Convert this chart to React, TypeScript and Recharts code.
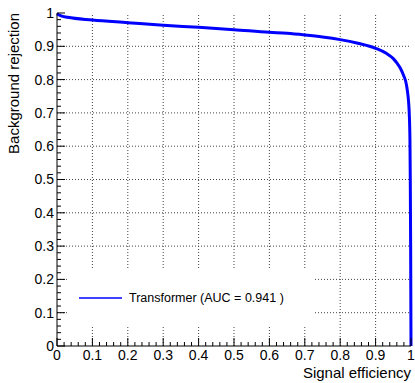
import { CartesianGrid, Legend, Line, LineChart, ReferenceLine, XAxis, YAxis } from "recharts"

const signalEff = [
  0, 0.01, 0.03, 0.1, 0.2, 0.3, 0.4, 0.5, 0.6, 0.65, 0.7, 0.75, 0.8, 0.85, 0.9, 0.93,
  0.95, 0.96, 0.97, 0.98, 0.985, 0.99, 0.993, 0.995, 0.997, 0.998, 0.999, 1,
]
const bkgRejection = [
  0.998, 0.992, 0.987, 0.979, 0.971, 0.963, 0.957, 0.95, 0.942, 0.939, 0.934, 0.928, 0.92,
  0.909, 0.894, 0.879, 0.863, 0.85, 0.834, 0.81, 0.795, 0.765, 0.735, 0.7, 0.62, 0.5, 0.3, 0,
]
const majorTicks = [0, 0.1, 0.2, 0.3, 0.4, 0.5, 0.6, 0.7, 0.8, 0.9, 1]
const tickLabels = ["0", "0.1", "0.2", "0.3", "0.4", "0.5", "0.6", "0.7", "0.8", "0.9", "1"]
const gridValues = [0.1, 0.2, 0.3, 0.4, 0.5, 0.6, 0.7, 0.8, 0.9]
const seriesName = "Transformer (AUC = 0.941 )"

const data = signalEff.map((x, i) => ({ x, y: bkgRejection[i] }))

// 5 subdivisions per major tick, like ROOT
const allTicks = majorTicks.slice(0, -1).flatMap((t) => [0, 1, 2, 3, 4].map((k) => +(t + k * 0.02).toFixed(2))).concat([1])

const FONT = "'Liberation Sans', Arial, sans-serif"
const isMajor = (v: number) => Math.round(v * 50) % 5 === 0
const labelOf = (v: number) => tickLabels[Math.round(v * 10)]

const BottomTick = ({ x, y, payload }: any) => {
  const v = payload.value
  const major = isMajor(v)
  return (
    <g>
      <line x1={x} y1={y} x2={x} y2={y - (major ? 8 : 4)} stroke="#000" />
      {major && (
        <text x={x} y={y + 14} textAnchor="middle" fontSize={14} fontFamily={FONT} fill="#000">
          {labelOf(v)}
        </text>
      )}
    </g>
  )
}

const TopTick = ({ x, y, payload }: any) => (
  <line x1={x} y1={y} x2={x} y2={y + (isMajor(payload.value) ? 8 : 4)} stroke="#000" />
)

const LeftTick = ({ x, y, payload }: any) => {
  const v = payload.value
  const major = isMajor(v)
  return (
    <g>
      <line x1={x} y1={y} x2={x + (major ? 8 : 4)} y2={y} stroke="#000" />
      {major && (
        <text x={x - 3} y={y} dy="0.35em" textAnchor="end" fontSize={14} fontFamily={FONT} fill="#000">
          {labelOf(v)}
        </text>
      )}
    </g>
  )
}

const RightTick = ({ x, y, payload }: any) => (
  <line x1={x} y1={y} x2={x - (isMajor(payload.value) ? 8 : 4)} y2={y} stroke="#000" />
)

const LegendBox = () => (
  <div style={{ position: "relative", width: 246, height: 57, background: "#fff" }}>
    <svg width={246} height={57} style={{ position: "absolute", left: 0, top: 0 }}>
      <line x1={11} y1={30} x2={54} y2={30} stroke="#0000ff" strokeWidth={1.5} />
      <text x={61} y={30} dy="0.35em" fontSize={12.5} fontFamily={FONT} fill="#000">
        {seriesName}
      </text>
    </svg>
  </div>
)

export default function App() {
  return (
    <div style={{ position: "absolute", left: 0, top: 0, background: "#fff" }}>
      <LineChart width={415} height={383} data={data} margin={{ top: 13, right: 4, bottom: 0, left: 0 }}>
        <CartesianGrid stroke="none" />
        {gridValues.map((v) => (
          <ReferenceLine key={"gx" + v} x={v} stroke="#444" strokeDasharray="1 2" />
        ))}
        {gridValues.map((v) => (
          <ReferenceLine key={"gy" + v} y={v} stroke="#444" strokeDasharray="1 2" />
        ))}
        <XAxis
          dataKey="x"
          type="number"
          domain={[0, 1]}
          ticks={allTicks}
          interval={0}
          height={37}
          tickSize={0}
          tickMargin={0}
          tickLine={false}
          axisLine={{ stroke: "#000" }}
          tick={<BottomTick />}
          label={{
            content: () => (
              <text x={411} y={378} textAnchor="end" fontSize={15} fontFamily={FONT} fill="#000">
                Signal efficiency
              </text>
            ),
          }}
        />
        <XAxis
          xAxisId="top"
          orientation="top"
          type="number"
          domain={[0, 1]}
          ticks={allTicks}
          interval={0}
          height={0}
          tickSize={0}
          tickMargin={0}
          tickLine={false}
          axisLine={{ stroke: "#000" }}
          tick={<TopTick />}
        />
        <YAxis
          type="number"
          domain={[0, 1]}
          ticks={allTicks}
          interval={0}
          width={57}
          tickSize={0}
          tickMargin={0}
          tickLine={false}
          axisLine={{ stroke: "#000" }}
          tick={<LeftTick />}
          label={{
            content: () => (
              <text
                x={19}
                y={13}
                transform="rotate(-90, 19, 13)"
                textAnchor="end"
                fontSize={15}
                fontFamily={FONT}
                fill="#000"
              >
                Background rejection
              </text>
            ),
          }}
        />
        <YAxis
          yAxisId="right"
          orientation="right"
          type="number"
          domain={[0, 1]}
          ticks={allTicks}
          interval={0}
          width={0}
          tickSize={0}
          tickMargin={0}
          tickLine={false}
          axisLine={{ stroke: "#000" }}
          tick={<RightTick />}
        />
        <Line
          dataKey="y"
          name={seriesName}
          type="monotone"
          stroke="#0000ff"
          strokeWidth={3}
          dot={false}
          isAnimationActive={false}
        />
        <Legend
          layout="horizontal"
          verticalAlign="middle"
          align="center"
          content={<LegendBox />}
          wrapperStyle={{ left: 68, top: 268, width: 246, height: 57 }}
        />
      </LineChart>
    </div>
  )
}
